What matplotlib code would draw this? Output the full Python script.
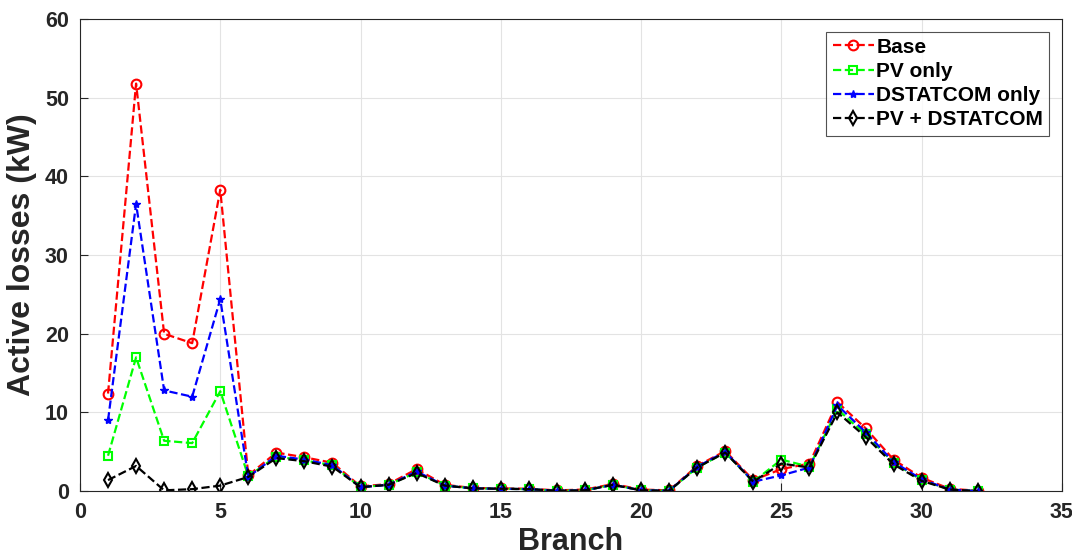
import numpy as np
import matplotlib
matplotlib.use('Agg')
import matplotlib.pyplot as plt

plt.rcParams['font.family'] = ['Liberation Sans', 'DejaVu Sans']
plt.rcParams['font.weight'] = 'bold'

branch = np.arange(1, 33)

base = [12.4, 51.8, 20.0, 18.8, 38.3, 2.0, 4.9, 4.3, 3.6, 0.6, 0.9, 2.8, 0.8, 0.4, 0.35, 0.3,
        0.1, 0.2, 0.9, 0.2, 0.1, 3.2, 5.1, 1.4, 2.8, 3.5, 11.3, 8.0, 4.0, 1.7, 0.3, 0.05]
pv_only = [4.5, 17.0, 6.4, 6.1, 12.7, 1.9, 4.4, 3.9, 3.3, 0.5, 0.8, 2.4, 0.7, 0.35, 0.3, 0.25,
           0.05, 0.1, 0.8, 0.1, 0.05, 3.0, 4.9, 1.2, 4.0, 3.1, 10.4, 7.2, 3.6, 1.4, 0.2, 0.0]
dstatcom_only = [9.0, 36.5, 12.8, 12.0, 24.4, 1.8, 4.5, 4.0, 3.3, 0.5, 0.8, 2.5, 0.7, 0.35, 0.3, 0.25,
                 0.05, 0.1, 0.8, 0.1, 0.05, 3.1, 5.0, 1.2, 2.0, 3.0, 10.9, 7.5, 3.7, 1.5, 0.2, 0.0]
pv_dstatcom = [1.4, 3.2, 0.1, 0.25, 0.7, 1.8, 4.2, 3.8, 3.1, 0.5, 0.8, 2.3, 0.7, 0.35, 0.3, 0.25,
               0.05, 0.1, 0.8, 0.1, 0.05, 3.0, 4.9, 1.2, 3.5, 3.0, 10.0, 6.9, 3.4, 1.3, 0.2, 0.0]

fig = plt.figure(figsize=(10.72, 5.6), dpi=100)
ax = fig.add_axes([0.0746, 0.123, 0.916, 0.843])

ax.plot(branch, base, '--o', color='red', lw=1.6, ms=7, mfc='none', mew=1.5, label='Base')
ax.plot(branch, pv_only, '--s', color='#00ff00', lw=1.6, ms=6, mfc='none', mew=1.5, label='PV only')
ax.plot(branch, dstatcom_only, '--*', color='blue', lw=1.6, ms=6, label='DSTATCOM only')
ax.plot(branch, pv_dstatcom, '--d', color='black', lw=1.6, ms=7, mfc='none', mew=1.5, label='PV + DSTATCOM')

ax.set_xlim(0, 35)
ax.set_ylim(0, 60)
ax.set_xticks(np.arange(0, 36, 5))
ax.set_yticks(np.arange(0, 61, 10))
ax.grid(True, color='#e3e3e3', lw=0.8)
ax.set_axisbelow(True)
ax.tick_params(direction='in', length=6, colors='#262626', labelsize=15.5, pad=8)
for s in ax.spines.values():
    s.set_color('#262626')
    s.set_linewidth(0.8)
for lbl in ax.get_xticklabels() + ax.get_yticklabels():
    lbl.set_fontweight('bold')

ax.set_xlabel('Branch', fontsize=22, fontweight='bold', color='#262626', labelpad=3)
ax.set_ylabel('Active losses (kW)', fontsize=23, fontweight='bold', color='#262626', labelpad=6)

leg = ax.legend(loc='upper right', fontsize=15, frameon=True, fancybox=False,
                edgecolor='#262626', handlelength=2.0, handletextpad=0.1,
                borderpad=0.3, labelspacing=0.25, borderaxespad=0.6)
leg.get_frame().set_linewidth(0.8)
for t in leg.get_texts():
    t.set_fontweight('bold')

fig.savefig('out.png', dpi=100)
